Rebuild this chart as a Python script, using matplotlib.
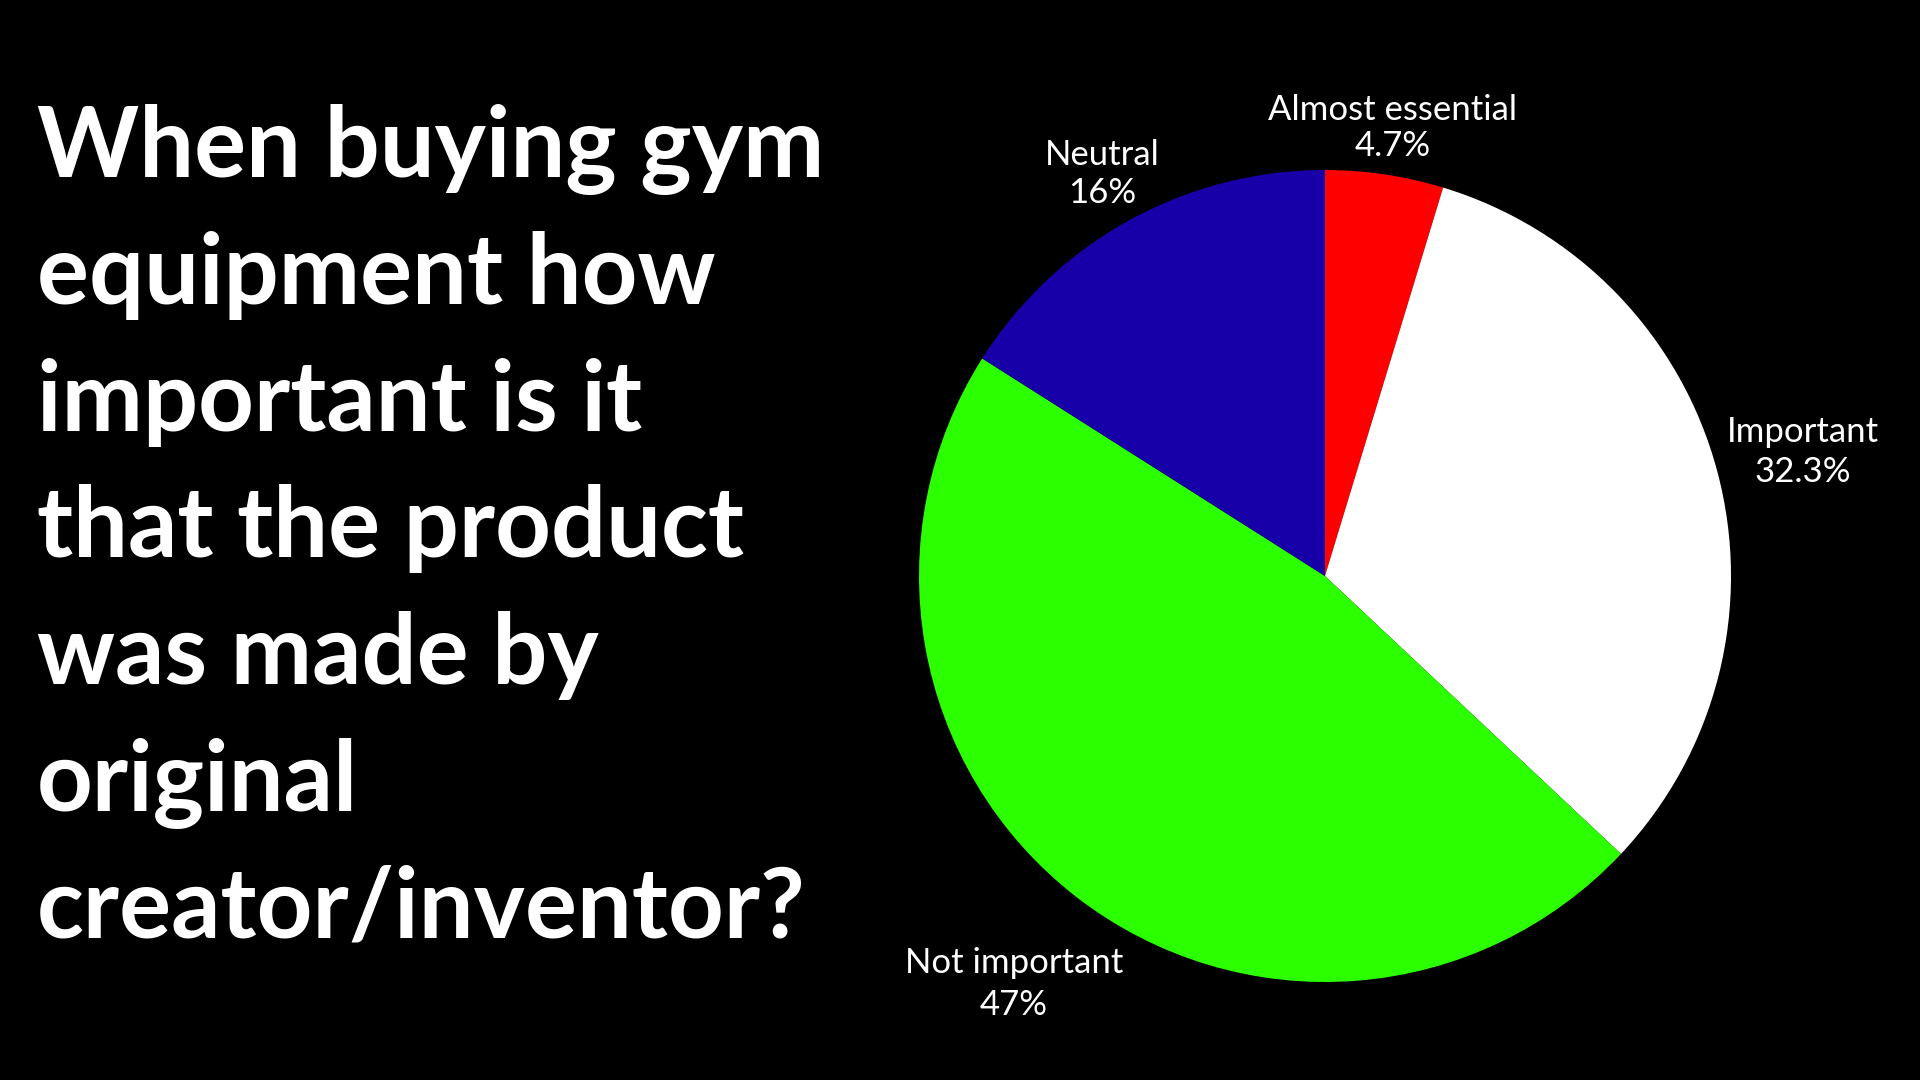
import matplotlib.pyplot as plt

# data for the pie
labels = ['Almost essential', 'Important', 'Not important', 'Neutral']
values = [4.7, 32.3, 47, 16]
colors = ['#ff0000', '#ffffff', '#2bff00', '#1800a8']

title_lines = ['When buying gym', 'equipment how', 'important is it',
               'that the product', 'was made by', 'original',
               'creator/inventor?']

# figure in pixel units (1920x1080), y measured from the top
W, H = 1920, 1080
fig = plt.figure(figsize=(19.2, 10.8), dpi=100, facecolor='black')
ax = fig.add_axes([0, 0, 1, 1])
ax.set_xlim(0, W)
ax.set_ylim(H, 0)
ax.set_aspect('equal')
ax.axis('off')

# pie (y is inverted, so counterclock=True gives a clockwise look on screen)
cx, cy, r = 1325, 576, 406
ax.pie(values, colors=colors, startangle=-90, counterclock=True,
       center=(cx, cy), radius=r, wedgeprops={'linewidth': 0})
ax.set_xlim(0, W)
ax.set_ylim(H, 0)

# label layout (block centres in pixels) and line spacing per label
label_pos = [(1393, 128), (1803, 452), (1014, 984), (1102, 174)]
label_gap = [1.15, 1.3, 1.35, 1.2]
for lab, v, (x, y), g in zip(labels, values, label_pos, label_gap):
    ax.text(x, y, f'{lab}\n{v:g}%', color='white', fontsize=25,
            family='Lato', ha='center', va='center', linespacing=g)

# title on the left
y0, step = 177, 126.8
for i, line in enumerate(title_lines):
    ax.text(37, y0 + i * step, line, color='white', fontsize=70,
            family='Lato', weight='bold', ha='left', va='baseline')

fig.savefig('out.png', dpi=100, facecolor='black')
